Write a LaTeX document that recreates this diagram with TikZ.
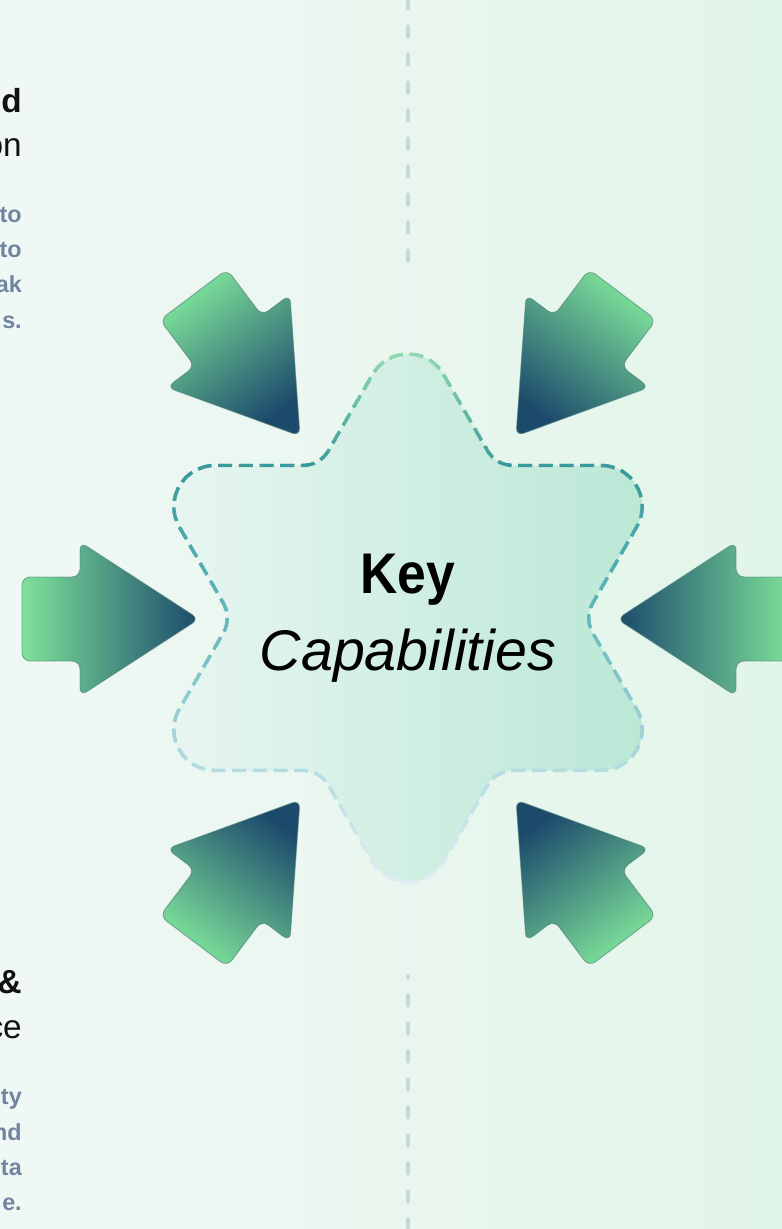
\documentclass[tikz,border=0pt]{standalone}
\usepackage{fontspec}
\usepackage{graphicx}
\setmainfont{Liberation Sans}
\usetikzlibrary{calc}
\definecolor{bgL}{HTML}{F0F8F5}
\definecolor{bgR}{HTML}{E2F5E9}
\definecolor{starL}{HTML}{E8F6F1}
\definecolor{starR}{HTML}{BAE7D5}
\definecolor{sc1}{HTML}{96DDB0}
\definecolor{sc2}{HTML}{38999C}
\definecolor{sc3}{HTML}{62B8BA}
\definecolor{sc4}{HTML}{B7DCE3}
\definecolor{sc5}{HTML}{E3EEF6}
\definecolor{arrowG}{HTML}{7EE29A}
\definecolor{arrowB}{HTML}{1C4A6C}
\definecolor{arrowEdge}{HTML}{4F7F78}
\definecolor{vlinec}{HTML}{C8D7DA}
\definecolor{titlec}{HTML}{111111}
\definecolor{descc}{HTML}{7184A0}
\newcommand\kcArrow[5]{%
  \begin{scope}[shift={(#2,#3)},rotate=#4]
    \coordinate (#1a) at (0,0);
    \coordinate (#1b) at (-119,-77);
    \coordinate (#1c) at (-119,-42);
    \coordinate (#1d) at (-177,-42);
    \coordinate (#1e) at (-177,42);
    \coordinate (#1f) at (-119,42);
    \coordinate (#1g) at (-119,77);
  \end{scope}
  \path[capArrow, shading angle=#5] (#1a) -- (#1b) -- (#1c) -- (#1d) -- (#1e) -- (#1f) -- (#1g) -- cycle;
}
\begin{document}
\begin{tikzpicture}[x=0.75pt,y=-0.75pt,
  vline/.style={draw=vlinec, line width=2.6pt, line cap=round, dash pattern=on 8.25pt off 12.75pt},
  stardash/.style={line width=2.6pt, dash pattern=on 10.5pt off 5pt},
  capArrow/.style={draw=arrowEdge, draw opacity=0.6, line width=0.7pt, rounded corners=6pt, left color=arrowG, right color=arrowB},
  sidetitle/.style={anchor=base east, inner sep=0pt, text=titlec, font=\fontsize{25}{30}\selectfont},
  sidedesc/.style={anchor=base east, inner sep=0pt, text=descc, font=\bfseries\fontsize{17.5}{21}\selectfont}]
\useasboundingbox (0,0) rectangle (782,1229);
\clip (0,0) rectangle (782,1229);
\shade[left color=bgL, right color=bgR] (0,0) rectangle (782,1229);

% vertical dashed guides
\coordinate (vtA) at (408,261);
\coordinate (vtB) at (408,-20);
\draw[vline] (vtA) -- (vtB);
\coordinate (vbA) at (408,976);
\coordinate (vbB) at (408,1250);
\draw[vline, dash phase=6.75pt] (vbA) -- (vbB);

% star geometry
\coordinate (P0) at (408,313);
\coordinate (Q1) at (496.05,465.5);
\coordinate (P1) at (672.14,465.5);
\coordinate (Q2) at (584.09,618);
\coordinate (P2) at (672.14,770.5);
\coordinate (Q3) at (496.05,770.5);
\coordinate (P3) at (408,923);
\coordinate (Q4) at (319.95,770.5);
\coordinate (P4) at (143.86,770.5);
\coordinate (Q5) at (231.91,618);
\coordinate (P5) at (143.86,465.5);
\coordinate (Q0) at (319.95,465.5);
\def\starpath{($(P0)!53.25pt!(Q1)$)
 -- ($(Q1)!13pt!(P0)$) .. controls ($(Q1)!4.95pt!(P0)$) and ($(Q1)!4.95pt!(P1)$) .. ($(Q1)!13pt!(P1)$)
 -- ($(P1)!53.25pt!(Q1)$) .. controls ($(P1)!29.6pt!(Q1)$) and ($(P1)!29.6pt!(Q2)$) .. ($(P1)!53.25pt!(Q2)$)
 -- ($(Q2)!13pt!(P1)$) .. controls ($(Q2)!4.95pt!(P1)$) and ($(Q2)!4.95pt!(P2)$) .. ($(Q2)!13pt!(P2)$)
 -- ($(P2)!53.25pt!(Q2)$) .. controls ($(P2)!29.6pt!(Q2)$) and ($(P2)!29.6pt!(Q3)$) .. ($(P2)!53.25pt!(Q3)$)
 -- ($(Q3)!13pt!(P2)$) .. controls ($(Q3)!4.95pt!(P2)$) and ($(Q3)!4.95pt!(P3)$) .. ($(Q3)!13pt!(P3)$)
 -- ($(P3)!53.25pt!(Q3)$) .. controls ($(P3)!29.6pt!(Q3)$) and ($(P3)!29.6pt!(Q4)$) .. ($(P3)!53.25pt!(Q4)$)
 -- ($(Q4)!13pt!(P3)$) .. controls ($(Q4)!4.95pt!(P3)$) and ($(Q4)!4.95pt!(P4)$) .. ($(Q4)!13pt!(P4)$)
 -- ($(P4)!53.25pt!(Q4)$) .. controls ($(P4)!29.6pt!(Q4)$) and ($(P4)!29.6pt!(Q5)$) .. ($(P4)!53.25pt!(Q5)$)
 -- ($(Q5)!13pt!(P4)$) .. controls ($(Q5)!4.95pt!(P4)$) and ($(Q5)!4.95pt!(P5)$) .. ($(Q5)!13pt!(P5)$)
 -- ($(P5)!53.25pt!(Q5)$) .. controls ($(P5)!29.6pt!(Q5)$) and ($(P5)!29.6pt!(Q0)$) .. ($(P5)!53.25pt!(Q0)$)
 -- ($(Q0)!13pt!(P5)$) .. controls ($(Q0)!4.95pt!(P5)$) and ($(Q0)!4.95pt!(P0)$) .. ($(Q0)!13pt!(P0)$)
 -- ($(P0)!53.25pt!(Q0)$) .. controls ($(P0)!29.6pt!(Q0)$) and ($(P0)!29.6pt!(Q1)$) .. ($(P0)!53.25pt!(Q1)$)
 -- cycle}
\shade[left color=starL, right color=starR] \starpath;
\foreach \ya/\yb/\ca/\cb in {348/470/sc1/sc2, 470/620/sc2/sc3, 620/775/sc3/sc4, 775/890/sc4/sc5} {
  \pgfmathtruncatemacro\nb{ceil((\yb-\ya)/6)}
  \foreach \k in {1,...,\nb} {
    \pgfmathsetmacro\ylo{\ya+(\k-1)*(\yb-\ya)/\nb-0.3}
    \pgfmathsetmacro\yhi{\ya+\k*(\yb-\ya)/\nb+0.3}
    \pgfmathtruncatemacro\pc{100-100*(\k-0.5)/\nb}
    \begin{scope}
      \clip (0,\ylo) rectangle (782,\yhi);
      \draw[stardash, draw=\ca!\pc!\cb] \starpath;
    \end{scope}
  }
}

% arrows
\kcArrow{al}{199}{619}{0}{90}
\kcArrow{ar}{617}{619}{180}{270}
\kcArrow{aul}{300}{436}{-53}{37}
\kcArrow{aur}{516}{436}{233}{323}
\kcArrow{all}{300}{800}{53}{143}
\kcArrow{alr}{516}{800}{127}{217}

% centre text
\node[anchor=base, inner sep=0pt, font=\bfseries\fontsize{43}{50}\selectfont] (key) at (408,593) {\scalebox{0.9}[1]{Key}};
\node[anchor=base, inner sep=0pt, font=\itshape\fontsize{43}{50}\selectfont] (cap) at (408,670) {Capabilities};

% cut-off side texts
\node[sidetitle, font=\bfseries\fontsize{25}{30}\selectfont] (ta1) at (22,112) {d};
\node[sidetitle] (ta2) at (22,156) {on};
\node[sidedesc] (da1) at (22,222) {to};
\node[sidedesc] (da2) at (22,257) {to};
\node[sidedesc] (da3) at (22,292) {ak};
\node[sidedesc] (da4) at (22,328) {s.};
\node[sidetitle, font=\bfseries\fontsize{25}{30}\selectfont] (tb1) at (22,993) {\&};
\node[sidetitle] (tb2) at (22,1038) {ce};
\node[sidedesc] (db1) at (22,1104) {ty};
\node[sidedesc] (db2) at (22,1140) {nd};
\node[sidedesc] (db3) at (22,1175) {ta};
\node[sidedesc] (db4) at (22,1210) {e.};
\end{tikzpicture}
\end{document}
